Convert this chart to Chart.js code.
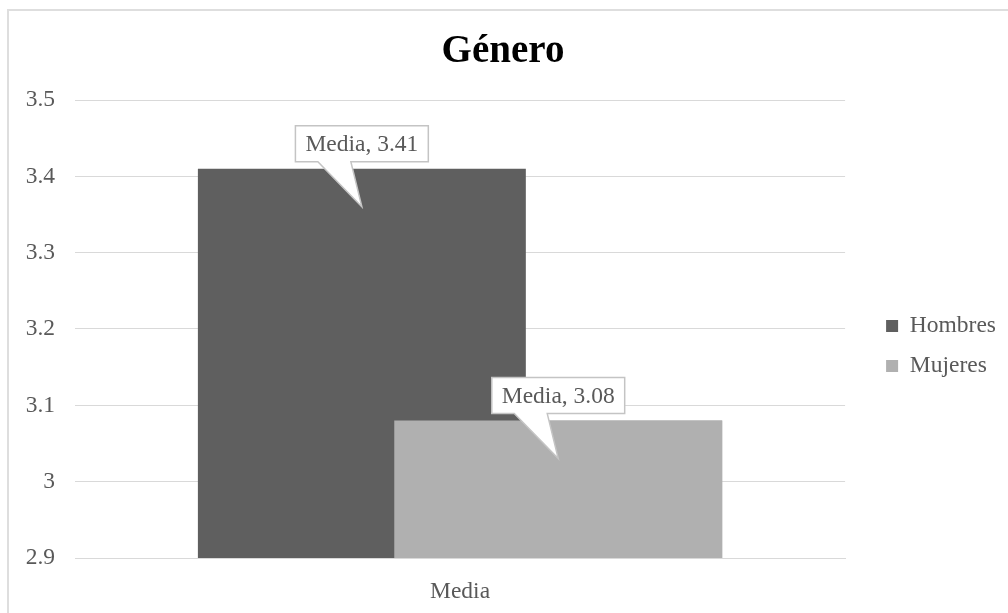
<!DOCTYPE html>
<html lang="es">
<head>
<meta charset="UTF-8">
<title>Género</title>
<script src="https://cdn.jsdelivr.net/npm/chart.js"></script>
<style>
  html, body { margin: 0; padding: 0; background: #fff; overflow: hidden; }
  /* outer chart frame, only top and left edges fall inside the picture */
  .frame { position: absolute; left: 7px; top: 9px; width: 1100px; height: 700px; border: 2px solid #dedede; }
  .wrap { position: absolute; left: 0; top: 0; width: 1008px; height: 613px; }
</style>
</head>
<body>
<div class="frame"></div>
<div class="wrap"><canvas id="chart"></canvas></div>
<script>
  // data
  const categories = ['Media'];
  const seriesNames = ['Hombres', 'Mujeres'];
  const hombres = [3.41];
  const mujeres = [3.08];
  const yTicks = [2.9, 3, 3.1, 3.2, 3.3, 3.4, 3.5];

  const serif = "'Liberation Serif', 'Times New Roman', serif";
  const grey = '#595959';
  const fs = 23.5;

  // Excel style callouts + Mujeres drawn over Hombres (bars overlap)
  const callouts = {
    id: 'callouts',
    afterDatasetsDraw(chart) {
      const ctx = chart.ctx;
      const a = chart.chartArea;
      ctx.save();
      ctx.beginPath();
      ctx.rect(a.left, a.top, a.right - a.left, a.bottom - a.top);
      ctx.clip();
      chart.getDatasetMeta(1).controller.draw();
      ctx.restore();

      ctx.save();
      ctx.font = fs + 'px ' + serif;
      chart.data.datasets.forEach((ds, i) => {
        chart.getDatasetMeta(i).data.forEach((bar, j) => {
          const text = categories[j] + ', ' + ds.data[j];
          const w = ctx.measureText(text).width + 20;
          const h = 36;
          const cx = bar.x;
          const bottom = bar.y - 7;
          const top = bottom - h;
          const left = cx - w / 2, right = cx + w / 2;
          ctx.beginPath();
          ctx.moveTo(left, top);
          ctx.lineTo(right, top);
          ctx.lineTo(right, bottom);
          ctx.lineTo(cx - 11, bottom);
          ctx.lineTo(cx, bar.y + 38);
          ctx.lineTo(cx - 44, bottom);
          ctx.lineTo(left, bottom);
          ctx.closePath();
          ctx.fillStyle = '#fff';
          ctx.fill();
          ctx.lineWidth = 1.5;
          ctx.strokeStyle = '#c4c4c4';
          ctx.stroke();
          ctx.fillStyle = grey;
          ctx.textAlign = 'center';
          ctx.textBaseline = 'middle';
          ctx.fillText(text, cx, top + h / 2 + 1);
        });
      });
      ctx.restore();
    }
  };

  new Chart(document.getElementById('chart'), {
    type: 'bar',
    data: {
      labels: categories,
      datasets: [
        { label: seriesNames[0], data: hombres, backgroundColor: '#5f5f5f' },
        { label: seriesNames[1], data: mujeres, backgroundColor: '#b0b0b0' }
      ]
    },
    options: {
      responsive: true,
      maintainAspectRatio: false,
      animation: false,
      categoryPercentage: 0.51,
      barPercentage: 1.67,
      layout: { padding: { left: 0, right: 2, top: 0, bottom: 0 } },
      plugins: {
        tooltip: { enabled: false },
        title: {
          display: true,
          text: 'Género',
          color: '#000',
          font: { family: serif, size: 39, weight: 'bold', lineHeight: 1 },
          padding: { top: 32, bottom: 29 }
        },
        legend: {
          position: 'right',
          fullSize: false,
          align: 'center',
          title: { display: true, text: '', font: { size: 10, lineHeight: 1 }, padding: { top: 0, bottom: 24 } },
          labels: {
            boxWidth: 12,
            boxHeight: 12,
            padding: 16.5,
            color: grey,
            font: { family: serif, size: fs }
          }
        }
      },
      scales: {
        x: {
          grid: { display: false },
          border: { color: '#d9d9d9' },
          ticks: { color: grey, font: { family: serif, size: fs }, padding: 12 },
          afterFit: s => { s.height = 55; }
        },
        y: {
          min: 2.9,
          max: 3.5,
          grid: { color: '#d9d9d9', drawTicks: false },
          border: { display: false },
          afterBuildTicks: s => { s.ticks = yTicks.map(v => ({ value: v })); },
          ticks: { color: grey, font: { family: serif, size: fs }, padding: 20, callback: v => String(v) },
          afterFit: s => { s.width = 75; }
        },
        y2: {
          position: 'right',
          grid: { display: false },
          border: { display: false },
          ticks: { display: false },
          afterFit: s => { s.width = 24.5; }
        }
      }
    },
    plugins: [callouts]
  });
</script>
</body>
</html>
